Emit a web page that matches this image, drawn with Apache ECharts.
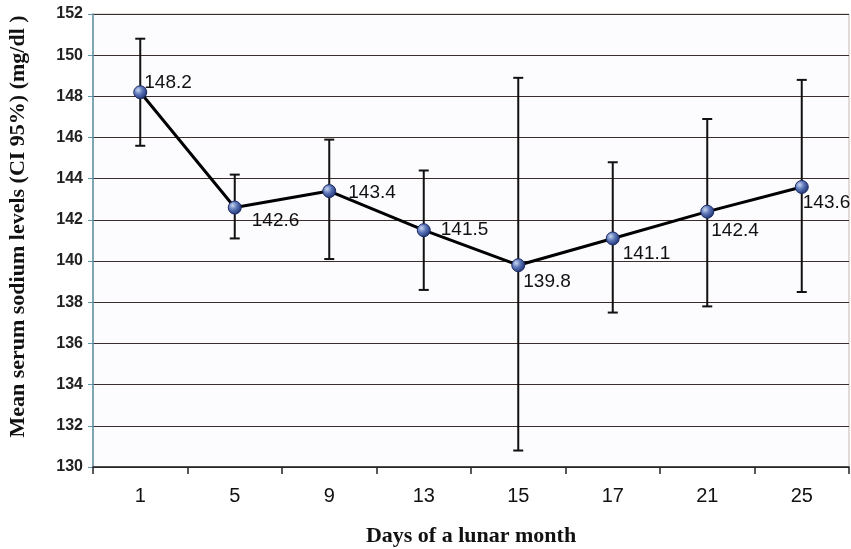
<!DOCTYPE html>
<html>
<head>
<meta charset="utf-8">
<script src="https://cdn.jsdelivr.net/npm/echarts@6/dist/echarts.min.js"></script>
<style>
  html, body { margin: 0; padding: 0; background: #fff; }
  #chart { width: 851px; height: 549px; }
</style>
</head>
<body>
<div id="chart"></div>
<script type="text/javascript">
// days of the lunar month (categories)
var days = ['1', '5', '9', '13', '15', '17', '21', '25'];
// mean serum sodium
var means = [148.2, 142.6, 143.4, 141.5, 139.8, 141.1, 142.4, 143.6];
// 95% CI bounds
var ciLow = [145.6, 141.1, 140.1, 138.6, 130.8, 137.5, 137.8, 138.5];
var ciHigh = [150.8, 144.2, 145.9, 144.4, 148.9, 144.8, 146.9, 148.8];

// where each value label sits next to its point (px)
var labelShift = [[-3, -9], [10, 13], [12, 2], [10, 0], [-2, 17], [3, 15], [-3, 19], [-6, 16]];

var chart = echarts.init(document.getElementById('chart'));

var lineData = means.map(function (v, i) {
  return {
    value: v,
    label: { offset: labelShift[i] }
  };
});

var barData = days.map(function (d, i) {
  return [i, ciLow[i], ciHigh[i]];
});

chart.setOption({
  backgroundColor: '#ffffff',
  animation: false,
  grid: {
    left: 93,
    right: 2,
    top: 14,
    bottom: 82,
    outerBoundsMode: 'none',
    show: true,
    backgroundColor: '#fcfcfe',
    borderColor: '#c9b8b4',
    borderWidth: 1
  },
  xAxis: {
    type: 'category',
    data: days,
    name: 'Days of a lunar month',
    nameLocation: 'middle',
    nameGap: 58,
    nameTextStyle: {
      fontFamily: 'Liberation Serif',
      fontWeight: 'bold',
      fontSize: 22,
      color: '#111'
    },
    axisLine: { lineStyle: { color: '#222', width: 1.5 } },
    axisTick: { show: true, length: 7, lineStyle: { color: '#222', width: 1.5 } },
    axisLabel: {
      margin: 19,
      fontFamily: 'Liberation Sans',
      fontSize: 20,
      color: '#111'
    }
  },
  yAxis: {
    type: 'value',
    min: 130,
    max: 152,
    interval: 2,
    name: 'Mean serum sodium levels (CI 95%) (mg/dl )',
    nameLocation: 'middle',
    nameGap: 64,
    nameTextStyle: {
      fontFamily: 'Liberation Serif',
      fontWeight: 'bold',
      fontSize: 22,
      color: '#111',
      padding: [0, 0, 0, 28]
    },
    axisLine: { show: true, lineStyle: { color: '#5f93aa', width: 1.5 } },
    axisTick: { show: true, length: 5, lineStyle: { color: '#5f93aa' } },
    axisLabel: {
      margin: 10,
      fontFamily: 'Liberation Sans',
      fontWeight: 'bold',
      fontSize: 16,
      color: '#222'
    },
    splitLine: { lineStyle: { color: '#3a2e2c', width: 1.2 } }
  },
  series: [
    {
      name: 'CI',
      type: 'custom',
      data: barData,
      z: 3,
      renderItem: function (params, api) {
        var top = api.coord([api.value(0), api.value(2)]);
        var bot = api.coord([api.value(0), api.value(1)]);
        var w = 5;
        var st = { stroke: '#111', lineWidth: 2 };
        return {
          type: 'group',
          children: [
            { type: 'line', shape: { x1: top[0], y1: top[1], x2: bot[0], y2: bot[1] }, style: st },
            { type: 'line', shape: { x1: top[0] - w, y1: top[1], x2: top[0] + w, y2: top[1] }, style: st },
            { type: 'line', shape: { x1: bot[0] - w, y1: bot[1], x2: bot[0] + w, y2: bot[1] }, style: st }
          ]
        };
      }
    },
    {
      name: 'Mean',
      type: 'line',
      data: lineData,
      z: 5,
      symbol: 'circle',
      symbolSize: 13,
      lineStyle: { color: '#000', width: 3 },
      itemStyle: {
        color: new echarts.graphic.RadialGradient(0.35, 0.35, 0.7, [
          { offset: 0, color: '#c9d6ef' },
          { offset: 0.45, color: '#5b76b8' },
          { offset: 1, color: '#1c2e6e' }
        ]),
        borderColor: '#1b2a66',
        borderWidth: 1
      },
      label: {
        show: true,
        position: 'right',
        distance: 0,
        fontFamily: 'Liberation Sans',
        fontSize: 19,
        color: '#111'
      }
    }
  ]
});
</script>
</body>
</html>
